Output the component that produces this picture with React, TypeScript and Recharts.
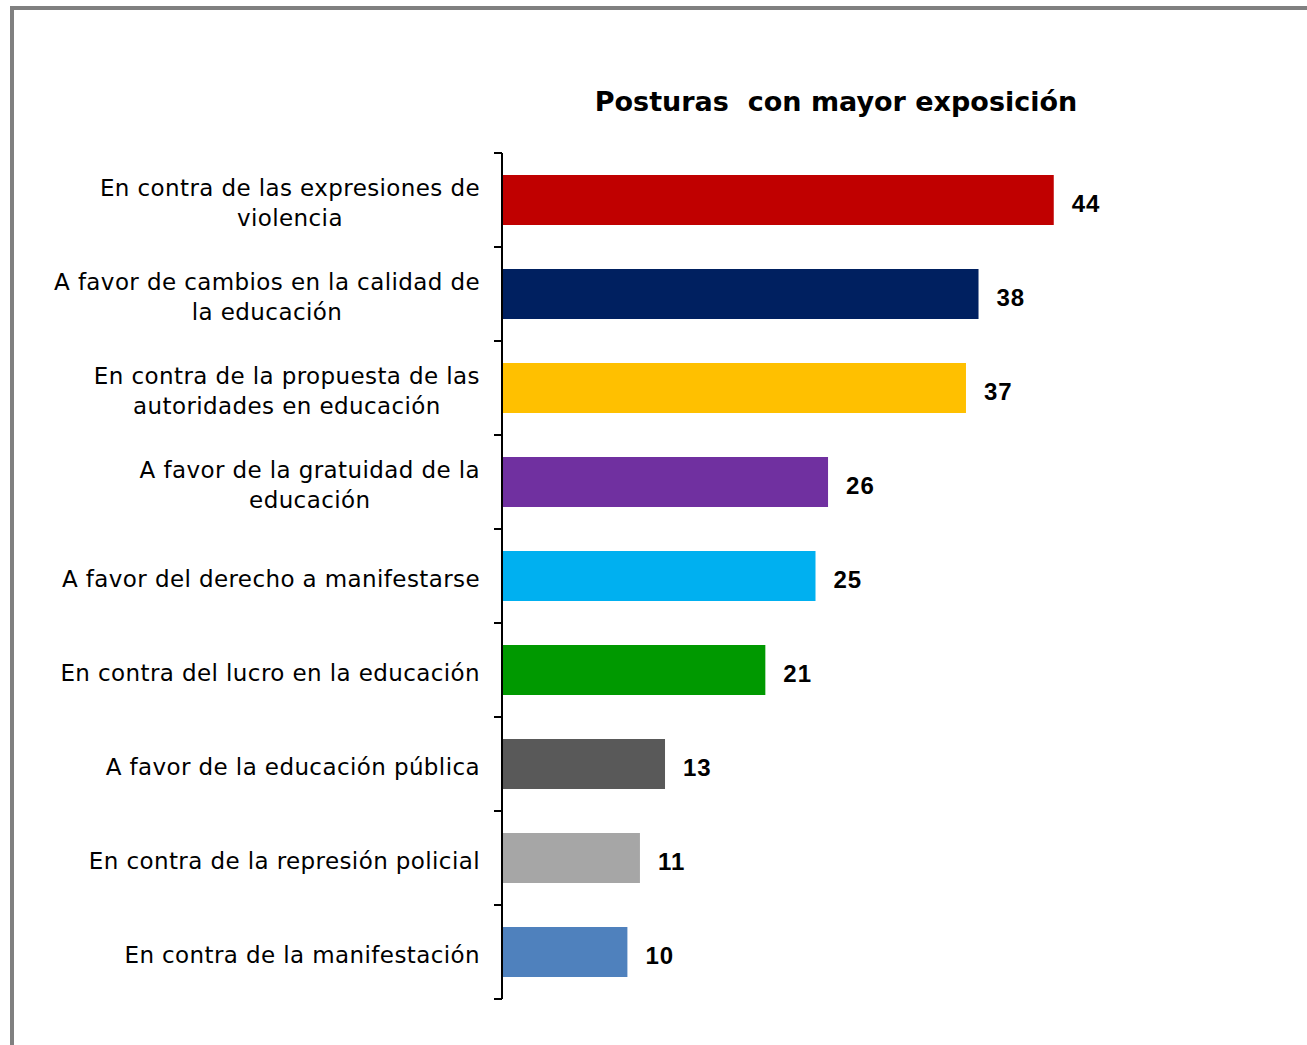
import { BarChart, Bar, XAxis, YAxis, Cell, LabelList } from "recharts";

const categories = [
  ["En contra de las expresiones de", "violencia"],
  ["A favor de cambios en la calidad de", "la educación"],
  ["En contra de la propuesta de las", "autoridades en educación"],
  ["A favor de la gratuidad de la", "educación"],
  ["A favor del derecho a manifestarse"],
  ["En contra del lucro en la educación"],
  ["A favor de la educación pública"],
  ["En contra de la represión policial"],
  ["En contra de la manifestación"],
];
const values = [44, 38, 37, 26, 25, 21, 13, 11, 10];
const colors = ["#C00000", "#002060", "#FFC000", "#7030A0", "#00B0F0", "#009900", "#595959", "#A6A6A6", "#4F81BD"];

const data = categories.map((lines, i) => ({ name: lines.join(" "), lines, value: values[i] }));

const labelFont = "'DejaVu Sans', sans-serif";
const BAND = (1045 - 153 - 46) / categories.length;

// category label plus the boundary tick marks (ticks sit between bars, not at centres)
function CategoryTick({ x, y, payload }: any) {
  const idx = payload.index;
  const lines = data[idx]?.lines ?? [payload.value];
  const h = 70;
  return (
    <g>
      <line x1={x - 8} x2={x} y1={y - BAND / 2} y2={y - BAND / 2} stroke="#000" strokeWidth={2} />
      {idx === data.length - 1 && (
        <line x1={x - 8} x2={x} y1={y + BAND / 2} y2={y + BAND / 2} stroke="#000" strokeWidth={2} />
      )}
      <foreignObject x={x - 482} y={y - h / 2 + 3} width={460} height={h}>
        <div
          style={{
            display: "flex",
            justifyContent: "flex-end",
            alignItems: "center",
            height: h,
            fontFamily: labelFont,
            fontSize: 23,
            letterSpacing: 0.4,
            lineHeight: "30px",
            color: "#000",
          }}
        >
          <div style={{ textAlign: "center", whiteSpace: "nowrap" }}>
            {lines.map((l: string, k: number) => (
              <div key={k}>{l}</div>
            ))}
          </div>
        </div>
      </foreignObject>
    </g>
  );
}

export default function App() {
  return (
    <div style={{ position: "absolute", left: 0, top: 0, width: 1307, height: 1045, background: "#fff" }}>
      <div
        style={{
          position: "absolute",
          left: 10,
          top: 6,
          width: 1307,
          height: 1045,
          borderTop: "4px solid #808080",
          borderLeft: "4px solid #808080",
        }}
      />
      <div
        style={{
          position: "absolute",
          left: 536,
          top: 86,
          width: 600,
          textAlign: "center",
          fontFamily: labelFont,
          fontWeight: "bold",
          fontSize: 27,
          color: "#000",
        }}
      >
        Posturas&nbsp; con mayor exposición
      </div>
      <BarChart
        width={1307}
        height={1045}
        data={data}
        layout="vertical"
        margin={{ top: 153, right: 178, bottom: 46, left: 10 }}
        barCategoryGap={22}
        style={{ position: "absolute", left: 0, top: 0 }}
      >
        <XAxis type="number" domain={[0, 50]} hide />
        <YAxis
          type="category"
          dataKey="name"
          width={492}
          axisLine={{ stroke: "#000", strokeWidth: 2 }}
          tickLine={false}
          tickSize={0}
          tickMargin={0}
          interval={0}
          tick={<CategoryTick />}
        />
        <Bar dataKey="value" isAnimationActive={false}>
          {data.map((d, i) => (
            <Cell key={d.name} fill={colors[i]} />
          ))}
          <LabelList
            dataKey="value"
            position="right"
            offset={18}
            dy={3}
            style={{
              fontFamily: "'Liberation Sans', Arial, sans-serif",
              fontWeight: "bold",
              fontSize: 24,
              letterSpacing: 1,
              fill: "#000",
            }}
          />
        </Bar>
      </BarChart>
    </div>
  );
}
